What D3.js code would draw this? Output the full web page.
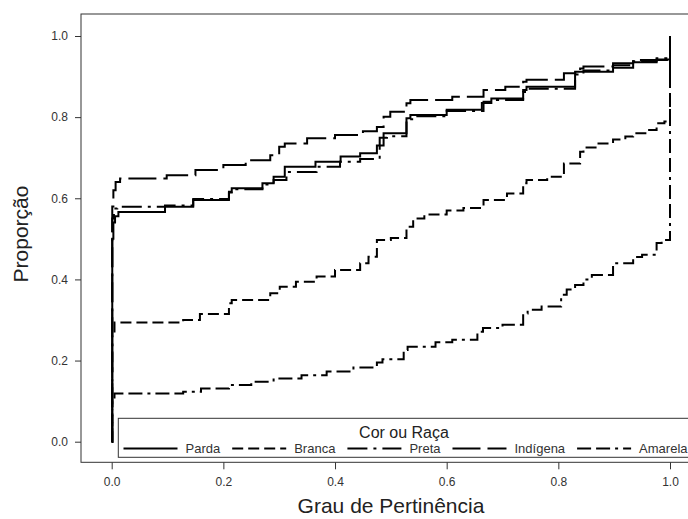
<!DOCTYPE html>
<html>
<head>
<meta charset="utf-8">
<script src="https://cdn.jsdelivr.net/npm/d3@7"></script>
<style>
  body { margin: 0; background: #fff; }
  svg { display: block; font-family: Arial, "Liberation Sans", sans-serif; }
  .tick text { fill: #333; font-size: 12px; }
  .tick line { stroke: #333; }
</style>
</head>
<body>
<div id="chart"></div>
<script>
const width = 688, height = 519;

const xTicks = [0, 0.2, 0.4, 0.6, 0.8, 1.0];
const yTicks = [0, 0.2, 0.4, 0.6, 0.8, 1.0];

const seriesNames = ["Parda", "Branca", "Preta", "Indígena", "Amarela"];

// empirical curves, [grau, proporção], drawn as steps
const parda = [[0,0],[0.001,0.50],[0.003,0.54],[0.006,0.556],[0.012,0.566],[0.0955,0.579],[0.146,0.596],
  [0.21,0.616],[0.215,0.625],[0.27,0.637],[0.29,0.653],[0.31,0.678],[0.365,0.690],[0.41,0.703],[0.445,0.711],
  [0.475,0.73],[0.487,0.760],[0.528,0.797],[0.535,0.805],[0.60,0.818],[0.663,0.835],[0.68,0.846],
  [0.737,0.867],[0.743,0.875],[0.83,0.912],[0.898,0.922],[0.934,0.935],[0.976,0.942],[1.0,1.0]];

const branca = [[0,0],[0.001,0.26],[0.005,0.294],[0.128,0.300],[0.158,0.315],[0.21,0.341],[0.215,0.349],
  [0.284,0.366],[0.301,0.382],[0.33,0.394],[0.367,0.407],[0.40,0.423],[0.445,0.44],[0.46,0.456],[0.475,0.497],
  [0.50,0.502],[0.528,0.530],[0.54,0.55],[0.56,0.560],[0.60,0.570],[0.63,0.576],[0.666,0.596],[0.708,0.612],
  [0.737,0.637],[0.743,0.645],[0.78,0.653],[0.81,0.686],[0.839,0.715],[0.845,0.725],[0.87,0.735],
  [0.898,0.745],[0.92,0.752],[0.934,0.760],[0.96,0.768],[0.976,0.785],[0.99,0.789],[1.0,1.0]];

const preta = [[0,0],[0.001,0.55],[0.004,0.575],[0.01,0.579],[0.0955,0.582],[0.146,0.598],[0.21,0.614],
  [0.215,0.622],[0.27,0.634],[0.29,0.645],[0.313,0.665],[0.367,0.678],[0.409,0.690],[0.445,0.697],
  [0.48,0.749],[0.493,0.753],[0.528,0.795],[0.54,0.802],[0.60,0.815],[0.666,0.838],[0.69,0.842],
  [0.737,0.862],[0.745,0.870],[0.83,0.905],[0.845,0.915],[0.898,0.928],[0.934,0.938],[0.976,0.945],[1.0,1.0]];

const indigena = [[0,0],[0.001,0.58],[0.003,0.62],[0.007,0.64],[0.015,0.649],[0.0985,0.657],[0.15,0.670],
  [0.20,0.682],[0.24,0.694],[0.284,0.706],[0.30,0.727],[0.31,0.735],[0.35,0.748],[0.40,0.756],[0.45,0.765],
  [0.475,0.776],[0.487,0.801],[0.499,0.813],[0.528,0.834],[0.535,0.842],[0.61,0.850],[0.666,0.867],
  [0.705,0.875],[0.737,0.887],[0.743,0.892],[0.81,0.908],[0.839,0.920],[0.845,0.925],[0.898,0.933],
  [0.934,0.941],[1.0,1.0]];

const amarela = [[0,0],[0.001,0.10],[0.005,0.119],[0.128,0.123],[0.16,0.131],[0.21,0.140],[0.25,0.148],
  [0.29,0.156],[0.34,0.164],[0.385,0.173],[0.433,0.183],[0.475,0.195],[0.485,0.203],[0.523,0.226],
  [0.53,0.234],[0.58,0.245],[0.61,0.251],[0.655,0.271],[0.665,0.280],[0.70,0.288],[0.737,0.316],
  [0.745,0.325],[0.77,0.333],[0.805,0.362],[0.815,0.375],[0.83,0.386],[0.845,0.40],[0.86,0.411],
  [0.898,0.440],[0.934,0.455],[0.95,0.461],[0.976,0.49],[0.985,0.497],[1.0,1.0]];

const seriesData = [parda, branca, preta, indigena, amarela];
const dashes = [null, "11,5", "20,6,3,6", "28,7", "14,5,14,5,3,5"];

const svg = d3.select("#chart").append("svg")
  .attr("width", width).attr("height", height);

const frame = { left: 81, top: 14, right: 692, bottom: 462.3 };

const x = d3.scaleLinear().domain([0, 1]).range([111.7, 670]);
const y = d3.scaleLinear().domain([0, 1]).range([441.7, 36]);

// frame
svg.append("rect")
  .attr("x", frame.left).attr("y", frame.top)
  .attr("width", frame.right - frame.left).attr("height", frame.bottom - frame.top)
  .attr("fill", "none").attr("stroke", "#333").attr("stroke-width", 1);

// axes
const yAxis = svg.append("g")
  .attr("transform", `translate(${frame.left},0)`)
  .call(d3.axisLeft(y).tickValues(yTicks).tickFormat(d3.format(".1f")).tickSize(6).tickPadding(7));
yAxis.select(".domain").remove();

const xAxis = svg.append("g")
  .attr("transform", `translate(0,${frame.bottom})`)
  .call(d3.axisBottom(x).tickValues(xTicks).tickFormat(d3.format(".1f")).tickSize(7).tickPadding(8));
xAxis.select(".domain").remove();

// axis titles
svg.append("text")
  .attr("x", 391).attr("y", 513)
  .attr("text-anchor", "middle")
  .attr("font-size", 21).attr("fill", "#222")
  .text("Grau de Pertinência");

svg.append("text")
  .attr("transform", "translate(28,234) rotate(-90)")
  .attr("text-anchor", "middle")
  .attr("font-size", 21).attr("fill", "#222")
  .text("Proporção");

// curves
const line = d3.line()
  .x(d => x(d[0]))
  .y(d => y(d[1]))
  .curve(d3.curveStepAfter);

svg.append("g").attr("class", "curves")
  .selectAll("path").data(seriesData).join("path")
    .attr("d", line)
    .attr("fill", "none")
    .attr("stroke", "#000")
    .attr("stroke-width", 2)
    .attr("stroke-dasharray", (d, i) => dashes[i]);

// legend
const legend = svg.append("g").attr("class", "legend");
legend.append("rect")
  .attr("x", 118.3).attr("y", 418.3)
  .attr("width", 692 - 118.3).attr("height", 39)
  .attr("fill", "#fff").attr("stroke", "#333").attr("stroke-width", 1);

legend.append("text")
  .attr("x", 404).attr("y", 438)
  .attr("text-anchor", "middle")
  .attr("font-size", 16).attr("fill", "#222")
  .text("Cor ou Raça");

let lx = 123.5;
seriesNames.forEach((name, i) => {
  const g = legend.append("g");
  g.append("line")
    .attr("x1", lx).attr("x2", lx + 54)
    .attr("y1", 448.5).attr("y2", 448.5)
    .attr("stroke", "#000").attr("stroke-width", 2)
    .attr("stroke-dasharray", dashes[i]);
  const t = g.append("text")
    .attr("x", lx + 62).attr("y", 453)
    .attr("font-size", 13).attr("fill", "#333")
    .text(name);
  lx += 62 + t.node().getComputedTextLength() + 12;
});
</script>
</body>
</html>
